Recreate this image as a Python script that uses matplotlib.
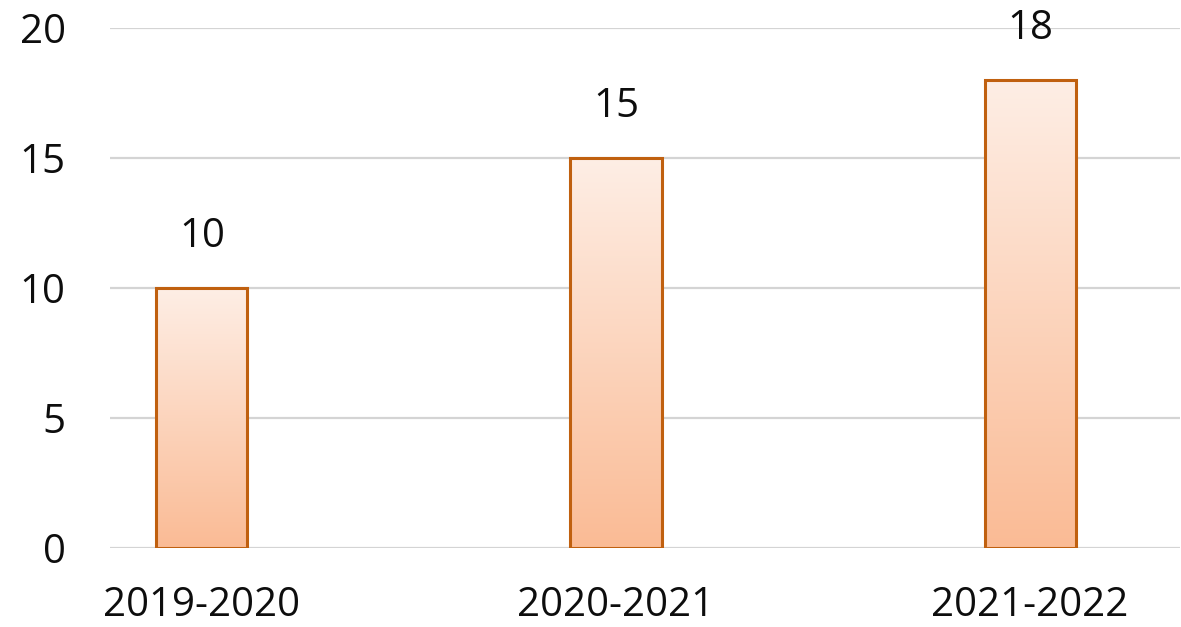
import numpy as np
import matplotlib
matplotlib.use("Agg")
import matplotlib.pyplot as plt
from matplotlib.colors import LinearSegmentedColormap

categories = ["2019-2020", "2020-2021", "2021-2022"]
values = [10, 15, 18]
yticks = [0, 5, 10, 15, 20]

plt.rcParams['font.family'] = ['Open Sans', 'DejaVu Sans']

fig = plt.figure(figsize=(11.81, 6.27), dpi=100)
ax = fig.add_axes([110/1181, 79/627, 1070/1181, 520/627])

x = np.arange(len(categories))
width = 0.22
bars = ax.bar(x, values, width=width, facecolor='none', edgecolor='#C0600F',
              linewidth=2.2, zorder=3)

cmap = LinearSegmentedColormap.from_list('g', ['#FABB95', '#FEEEE5'])
grad = np.linspace(0, 1, 256).reshape(-1, 1)
for b in bars:
    x0, y0 = b.get_x(), b.get_y()
    w, h = b.get_width(), b.get_height()
    im = ax.imshow(grad, extent=[x0, x0 + w, y0, y0 + h], origin='lower',
                   cmap=cmap, aspect='auto', zorder=2)
    im.set_clip_path(b)
    ax.text(b.get_x() + w / 2, h + 1.2, f"{int(h)}", ha='center', va='bottom',
            fontsize=29, color='#0d0d0d')

ax.set_xlim(-0.222, 2.362)
ax.set_ylim(0, 20)
ax.set_yticks(yticks)
ax.set_xticks(x)
ax.set_xticklabels(categories, fontsize=29, color='#0d0d0d')
ax.tick_params(axis='y', labelsize=29, labelcolor='#0d0d0d', length=0, pad=32)
ax.tick_params(axis='x', length=0, pad=27)
ax.yaxis.grid(True, color='#D4D4D4', linewidth=1.6, zorder=0)
ax.set_axisbelow(True)
for s in ax.spines.values():
    s.set_visible(False)

fig.savefig("out.png", dpi=100)
